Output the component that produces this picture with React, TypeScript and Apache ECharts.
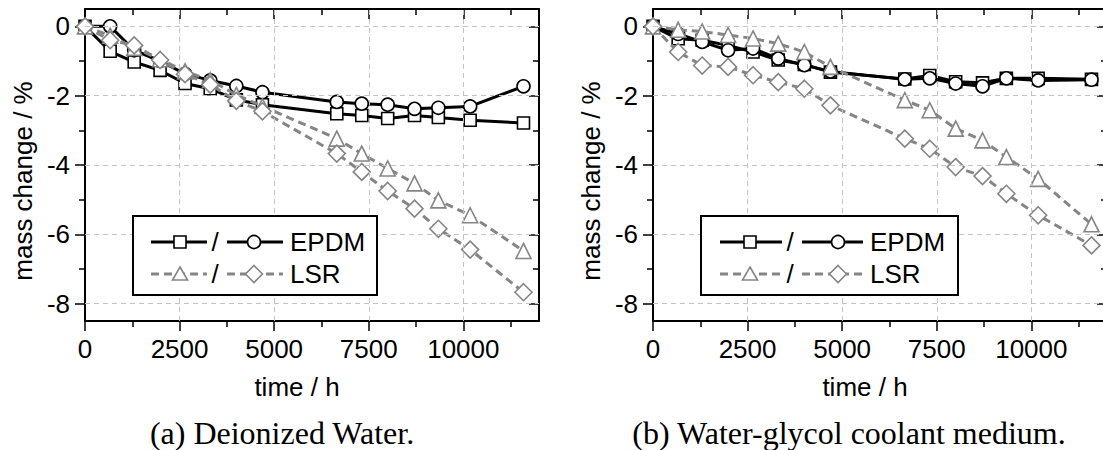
import React, { useEffect, useRef } from "react";
import * as echarts from "echarts";

// time points (h)
const times = [0, 665, 1300, 1985, 2645, 3310, 4000, 4690, 6655, 7315, 8000, 8710, 9340, 10180, 11590];

// (a) Deionized water
const waterEPDM1 = [0, -0.72, -1.03, -1.27, -1.65, -1.8, -2.12, -2.26, -2.52, -2.57, -2.66, -2.57, -2.63, -2.71, -2.79];
const waterEPDM2 = [0, 0, -0.69, -1.0, -1.37, -1.56, -1.72, -1.9, -2.18, -2.23, -2.26, -2.38, -2.35, -2.31, -1.73];
const waterLSR1 = [0, -0.27, -0.62, -0.95, -1.3, -1.55, -1.98, -2.3, -3.24, -3.67, -4.1, -4.53, -5.02, -5.45, -6.48];
const waterLSR2 = [0, -0.4, -0.55, -0.97, -1.38, -1.68, -2.15, -2.45, -3.67, -4.2, -4.75, -5.26, -5.84, -6.44, -7.67];

// (b) Water-glycol coolant medium
const glycolEPDM1 = [0, -0.36, -0.4, -0.55, -0.74, -0.97, -1.1, -1.32, -1.52, -1.42, -1.6, -1.63, -1.5, -1.5, -1.53];
const glycolEPDM2 = [0, -0.22, -0.45, -0.69, -0.64, -0.93, -1.12, -1.3, -1.53, -1.5, -1.65, -1.73, -1.5, -1.56, -1.54];
const glycolLSR1 = [0, -0.1, -0.15, -0.25, -0.35, -0.5, -0.74, -1.17, -2.13, -2.42, -2.95, -3.29, -3.77, -4.4, -5.71];
const glycolLSR2 = [0, -0.74, -1.13, -1.17, -1.41, -1.61, -1.8, -2.28, -3.24, -3.53, -4.06, -4.32, -4.83, -5.45, -6.32];

const xMajor = [0, 2500, 5000, 7500, 10000];
const xMinor = [1250, 3750, 6250, 8750, 11250];
const yMajor = [0, -2, -4, -6, -8];
const yMinor = [-1, -3, -5, -7];
const xGrid = [2500, 5000, 7500, 10000];
const yGrid = [0, -2, -4, -6, -8];

const xTitle = "time / h";
const yTitle = "mass change / %";
const captions = ["(a) Deionized Water.", "(b) Water-glycol coolant medium."];
const legendNames = ["EPDM", "LSR"];

const SANS = '"Liberation Sans", Arial, sans-serif';
const SERIF = '"Liberation Serif", "Times New Roman", serif';
const GRAY = "#858585";
const FS = 26;

const gridLefts = [85, 653];
const GRID_TOP = 9;
const GRID_W = 454;
const GRID_H = 312;

function xAxesFor(g: number) {
  const base = (position: string, values: number[], length: number, inside: boolean, labels: boolean, line: boolean) => ({
    type: "value",
    gridIndex: g,
    min: 0,
    max: 12000,
    position,
    axisLine: { show: line, onZero: false, lineStyle: { color: "#000", width: 2 } },
    axisTick: { show: true, inside, length, customValues: values, lineStyle: { color: "#000", width: 1.5 } },
    axisLabel: labels
      ? { show: true, customValues: xMajor, fontSize: FS, fontFamily: SANS, color: "#000", margin: 15, formatter: (v: number) => String(v) }
      : { show: false },
    splitLine: { show: false },
  });
  return [
    base("bottom", xMajor, 10, false, true, true),
    base("bottom", xMinor, 6, false, false, false),
    base("top", xMajor, 10, true, false, true),
    base("top", xMinor, 6, true, false, false),
  ];
}

function yAxesFor(g: number) {
  const base = (position: string, values: number[], length: number, inside: boolean, labels: boolean, line: boolean) => ({
    type: "value",
    gridIndex: g,
    min: -8.5,
    max: 0.5,
    position,
    axisLine: { show: line, onZero: false, lineStyle: { color: "#000", width: 2 } },
    axisTick: { show: true, inside, length, customValues: values, lineStyle: { color: "#000", width: 1.5 } },
    axisLabel: labels
      ? { show: true, customValues: yMajor, fontSize: FS, fontFamily: SANS, color: "#000", margin: 15, formatter: (v: number) => String(v) }
      : { show: false },
    splitLine: { show: false },
  });
  return [
    base("left", yMajor, 10, false, true, true),
    base("left", yMinor, 6, false, false, false),
    base("right", yMajor, 10, true, false, true),
    base("right", yMinor, 6, true, false, false),
  ];
}

function seriesFor(g: number, sq: number[], ci: number[], tri: number[], dia: number[]) {
  const ax = { xAxisIndex: g * 4, yAxisIndex: g * 4 };
  const pts = (vals: number[]) => times.map((t, i) => [t, vals[i]]);
  const black = (name: string, vals: number[], symbol: string, size: number) => ({
    type: "line",
    name,
    ...ax,
    data: pts(vals),
    symbol,
    symbolSize: size,
    showAllSymbol: true,
    z: 3,
    lineStyle: { color: "#000", width: 3 },
    itemStyle: { color: "#fff", borderColor: "#000", borderWidth: 1.6 },
  });
  const gray = (name: string, vals: number[], symbol: string, size: number) => ({
    type: "line",
    name,
    ...ax,
    data: pts(vals),
    symbol,
    symbolSize: size,
    showAllSymbol: true,
    z: 4,
    lineStyle: { color: GRAY, width: 3, type: [8, 5] },
    itemStyle: { color: "#fff", borderColor: GRAY, borderWidth: 1.6 },
  });
  return [
    {
      type: "line",
      name: "grid" + g,
      ...ax,
      data: [],
      z: 1,
      silent: true,
      markLine: {
        silent: true,
        symbol: ["none", "none"],
        label: { show: false },
        lineStyle: { color: "#c4c4c4", width: 1, type: [5, 4] },
        data: [...xGrid.map((v) => ({ xAxis: v })), ...yGrid.map((v) => ({ yAxis: v }))],
      },
    },
    black(legendNames[0] + " 1", sq, "rect", 12),
    black(legendNames[0] + " 2", ci, "circle", 13),
    gray(legendNames[1] + " 1", tri, "triangle", 15),
    gray(legendNames[1] + " 2", dia, "diamond", 17),
  ];
}

function legendGraphic(box: number[], s1: number, slash: number, s2Start: number, s2: number, textX: number, lineStart: number, lineEnd: number, s2End: number) {
  const [x0, y0, x1, y1] = box;
  const r1 = 242;
  const r2 = 274;
  const font = { fontSize: FS, fontFamily: SANS };
  const els: any[] = [
    { type: "rect", shape: { x: x0, y: y0, width: x1 - x0, height: y1 - y0 }, style: { fill: "#fff", stroke: "#000", lineWidth: 2 } },
    // row 1
    { type: "line", shape: { x1: lineStart, y1: r1, x2: lineEnd, y2: r1 }, style: { stroke: "#000", lineWidth: 3 } },
    { type: "rect", shape: { x: s1 - 6, y: r1 - 6, width: 12, height: 12 }, style: { fill: "#fff", stroke: "#000", lineWidth: 1.6 } },
    { type: "text", x: slash, y: r1, style: { text: "/", align: "center", verticalAlign: "middle", fill: "#000", ...font } },
    { type: "line", shape: { x1: s2Start, y1: r1, x2: s2End, y2: r1 }, style: { stroke: "#000", lineWidth: 3 } },
    { type: "circle", shape: { cx: s2, cy: r1, r: 6.5 }, style: { fill: "#fff", stroke: "#000", lineWidth: 1.6 } },
    { type: "text", x: textX, y: r1, style: { text: legendNames[0], align: "left", verticalAlign: "middle", fill: "#000", ...font } },
    // row 2
    { type: "line", shape: { x1: lineStart, y1: r2, x2: lineEnd, y2: r2 }, style: { stroke: GRAY, lineWidth: 3, lineDash: [8, 5] } },
    { type: "polygon", shape: { points: [[s1, r2 - 7], [s1 + 7.5, r2 + 6], [s1 - 7.5, r2 + 6]] }, style: { fill: "#fff", stroke: GRAY, lineWidth: 1.6 } },
    { type: "text", x: slash, y: r2, style: { text: "/", align: "center", verticalAlign: "middle", fill: "#000", ...font } },
    { type: "line", shape: { x1: s2Start, y1: r2, x2: s2End, y2: r2 }, style: { stroke: GRAY, lineWidth: 3, lineDash: [8, 5] } },
    { type: "polygon", shape: { points: [[s2, r2 - 8.5], [s2 + 8.5, r2], [s2, r2 + 8.5], [s2 - 8.5, r2]] }, style: { fill: "#fff", stroke: GRAY, lineWidth: 1.6 } },
    { type: "text", x: textX, y: r2, style: { text: legendNames[1], align: "left", verticalAlign: "middle", fill: "#000", ...font } },
  ];
  return els.map((e) => ({ ...e, z: 100 }));
}

export default function App() {
  const ref = useRef<HTMLDivElement>(null);
  useEffect(() => {
    if (!ref.current) return;
    const chart = echarts.init(ref.current, undefined, { renderer: "svg" });
    const titleFont = { fontSize: FS, fontFamily: SANS, fill: "#000" };
    const capFont = { fontSize: 32, fontFamily: SERIF, fill: "#000" };
    const option: any = {
      animation: false,
      backgroundColor: "#fff",
      grid: gridLefts.map((l) => ({ left: l, top: GRID_TOP, width: GRID_W, height: GRID_H, containLabel: false })),
      xAxis: [...xAxesFor(0), ...xAxesFor(1)],
      yAxis: [...yAxesFor(0), ...yAxesFor(1)],
      series: [
        ...seriesFor(0, waterEPDM1, waterEPDM2, waterLSR1, waterLSR2),
        ...seriesFor(1, glycolEPDM1, glycolEPDM2, glycolLSR1, glycolLSR2),
      ],
      graphic: [
        ...legendGraphic([133, 216, 377, 295], 180, 215, 227, 254, 290, 151, 207, 283),
        ...legendGraphic([701, 216, 958, 295], 750, 790, 802, 838, 870, 720, 782, 863),
        { type: "text", x: 23, y: 181, rotation: Math.PI / 2, style: { text: yTitle, align: "center", verticalAlign: "middle", ...titleFont } },
        { type: "text", x: 591, y: 181, rotation: Math.PI / 2, style: { text: yTitle, align: "center", verticalAlign: "middle", ...titleFont } },
        { type: "text", x: 297, y: 387, style: { text: xTitle, align: "center", verticalAlign: "middle", ...titleFont } },
        { type: "text", x: 865, y: 387, style: { text: xTitle, align: "center", verticalAlign: "middle", ...titleFont } },
        { type: "text", x: 282, y: 433, style: { text: captions[0], align: "center", verticalAlign: "middle", ...capFont } },
        { type: "text", x: 849, y: 433, style: { text: captions[1], align: "center", verticalAlign: "middle", ...capFont } },
      ],
    };
    chart.setOption(option);
    return () => chart.dispose();
  }, []);
  return (
    <div style={{ position: "absolute", left: 0, top: 0, width: 1103, height: 450, overflow: "hidden", background: "#fff" }}>
      <div ref={ref} style={{ width: 1112, height: 450 }} />
    </div>
  );
}
